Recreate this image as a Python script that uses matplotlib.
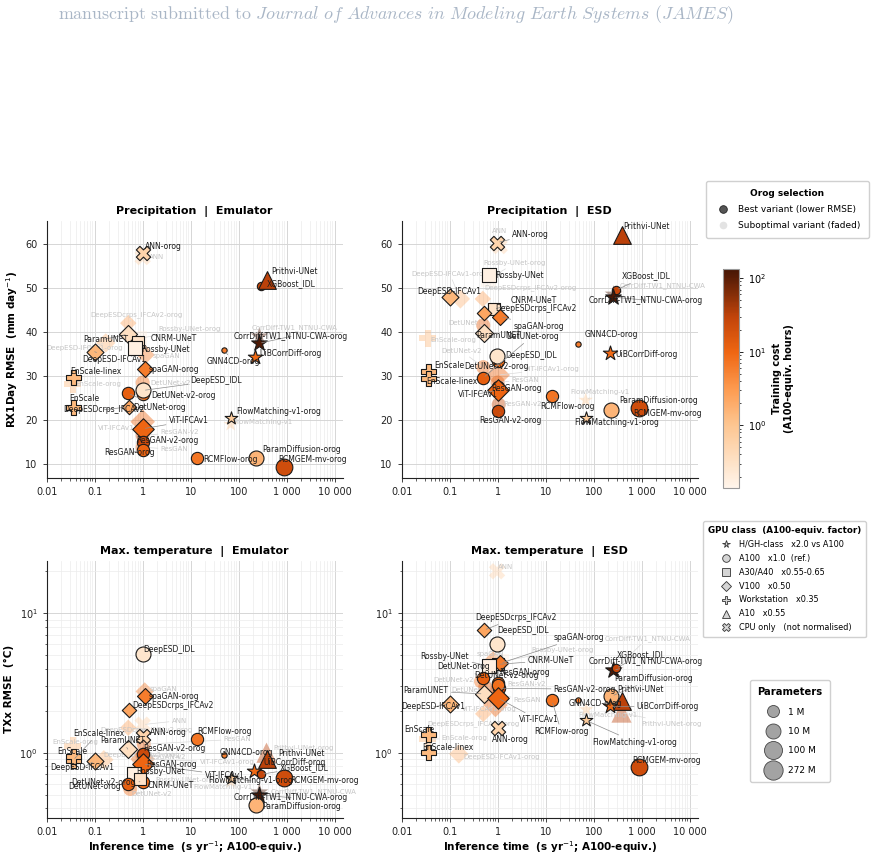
import numpy as np
import matplotlib
matplotlib.use("Agg")
import matplotlib.pyplot as plt
from matplotlib.colors import LinearSegmentedColormap, LogNorm
from matplotlib.cm import ScalarMappable
from matplotlib.lines import Line2D
from matplotlib.ticker import FixedLocator, FixedFormatter, LogLocator, NullFormatter

# ---------------------------------------------------------------- data
MODELS = ["ANN", "Prithvi-UNet", "XGBoost_IDL", "CorrDiff-TW1_NTNU-CWA", "UiBCorrDiff",
          "GNN4CD", "FlowMatching-v1", "ParamDiffusion", "RCMGEM-mv", "RCMFlow",
          "ResGAN", "ResGAN-v2", "ViT-IFCAv1", "DetUNet", "DetUNet-v2", "DeepESD_IDL",
          "spaGAN", "DeepESD-IFCAv1", "DeepESDcrps_IFCAv2", "ParamUNET", "CNRM-UNeT",
          "Rossby-UNet", "EnScale", "EnScale-linex"]
MODEL_GPU = ["CPU", "A10", "A100", "H", "H",
             "A100", "H", "A100", "A100", "A100",
             "A100", "A100", "V100", "A100", "A100", "A100",
             "V100", "V100", "V100", "V100", "A30",
             "A30", "WS", "WS"]
MODEL_COST = [0.55, 32, 26, 120, 9,
              6, 0.8, 1.6, 22, 7,
              11, 24, 10, 12, 8, 0.28,
              6, 1.5, 2.3, 0.35, 0.3,
              0.17, 1.4, 1.4]
MODEL_PARAMS_M = [6, 80, 0.06, 30, 10,
                  0.006, 2.7, 10, 37, 1.2,
                  1.3, 1.3, 12, 1.3, 1.3, 10,
                  0.6, 1.0, 0.25, 1.8, 1.0,
                  2.7, 10, 10]

GPU_CLASSES = ["H", "A100", "A30", "V100", "WS", "A10", "CPU"]
GPU_LABELS = ["H/GH-class   x2.0 vs A100", "A100   x1.0  (ref.)", "A30/A40   x0.55-0.65",
              "V100   x0.50", "Workstation   x0.35", "A10   x0.55", "CPU only   (not normalised)"]
PARAM_LEGEND_M = [1, 10, 100, 272]
PARAM_LEGEND_LABELS = ["1 M", "10 M", "100 M", "272 M"]

X_TICKS = [0.01, 0.1, 1, 10, 100, 1000, 10000]
X_TICK_LABELS = ["0.01", "0.1", "1", "10", "100", "1 000", "10 000"]
PR_Y_TICKS = [10, 20, 30, 40, 50, 60]

# Precipitation | Emulator
PE_BEST_NAMES = ["ANN-orog", "ParamUNET", "DeepESD-IFCAv1", "CNRM-UNeT", "Rossby-UNet",
                 "spaGAN-orog", "EnScale-linex", "DetUNet-v2-orog", "DeepESD_IDL", "DetUNet-orog",
                 "DeepESDcrps_IFCAv2", "EnScale", "ViT-IFCAv1", "ResGAN-v2-orog", "ResGAN-orog",
                 "RCMFlow-orog", "XGBoost_IDL", "Prithvi-UNet", "CorrDiff-TW1_NTNU-CWA-orog",
                 "UiBCorrDiff-orog", "GNN4CD-orog", "FlowMatching-v1-orog", "ParamDiffusion-orog",
                 "RCMGEM-mv-orog"]
PE_BEST_X = [1.0, 0.49, 0.10, 0.78, 0.68, 1.1, 0.035, 1.0, 1.0, 0.49,
             0.51, 0.035, 1.0, 1.0, 1.0, 13.5, 290, 380, 264, 224, 50, 68, 234, 880]
PE_BEST_Y = [58.0, 39.5, 35.5, 37.6, 36.3, 31.5, 29.8, 26.0, 26.7, 26.1,
             23.0, 23.0, 18.0, 15.1, 13.2, 11.3, 50.5, 51.8, 37.4, 34.2, 35.9, 20.5, 11.4, 9.4]
PE_SUB_NAMES = ["ANN", "DeepESDcrps_IFCAv2-orog", "Rossby-UNet-orog", "DeepESD-IFCAv1-orog",
                "spaGAN", "EnScale-orog", "DetUNet-v2", "ViT-IFCAv1-orog", "ResGAN-v2", "ResGAN",
                "FlowMatching-v1", "CorrDiff-TW1_NTNU-CWA"]
PE_SUB_X = [1.0, 0.5, 0.85, 0.17, 1.15, 0.035, 1.0, 1.0, 1.0, 1.0, 68, 270]
PE_SUB_Y = [57.0, 42.0, 38.5, 37.5, 34.8, 28.1, 28.5, 19.6, 16.5, 13.8, 19.0, 39.0]

# Precipitation | ESD
PD_BEST_NAMES = ["ANN-orog", "Rossby-UNet", "DeepESD-IFCAv1", "CNRM-UNeT", "DeepESDcrps_IFCAv2",
                 "spaGAN-orog", "ParamUNET", "DetUNet-v2-orog", "DeepESD_IDL", "EnScale",
                 "EnScale-linex", "DetUNet-orog", "ResGAN-orog", "ViT-IFCAv1", "ResGAN-v2-orog",
                 "RCMFlow-orog", "Prithvi-UNet", "XGBoost_IDL", "CorrDiff-TW1_NTNU-CWA-orog",
                 "GNN4CD-orog", "UiBCorrDiff-orog", "FlowMatching-v1-orog", "ParamDiffusion-orog",
                 "RCMGEM-mv-orog"]
PD_BEST_X = [0.97, 0.65, 0.10, 0.82, 0.51, 1.13, 0.51, 1.0, 0.97, 0.035,
             0.035, 0.49, 1.0, 1.0, 1.0, 13.5, 380, 290, 254, 48, 217, 68, 234, 880]
PD_BEST_Y = [60.3, 53.0, 47.9, 45.2, 44.4, 43.5, 39.8, 33.5, 34.6, 31.2,
             29.6, 29.5, 27.5, 26.8, 22.0, 25.5, 62.0, 49.5, 47.9, 37.3, 35.3, 20.5, 22.3, 22.8]
PD_SUB_NAMES = ["ANN", "Rossby-UNet-orog", "DeepESD-IFCAv1-orog", "DeepESDcrps_IFCAv2-orog",
                "DetUNet", "EnScale-orog", "DetUNet-v2", "ViT-IFCAv1-orog", "ResGAN", "ResGAN-v2",
                "FlowMatching-v1", "CorrDiff-TW1_NTNU-CWA"]
PD_SUB_X = [1.1, 0.65, 0.167, 0.49, 0.5, 0.035, 0.5, 1.0, 1.0, 1.05, 68, 260]
PD_SUB_Y = [59.5, 52.0, 47.5, 47.5, 41.5, 38.6, 32.0, 30.2, 28.5, 23.5, 24.5, 48.5]

# Max. temperature | Emulator
TE_BEST_NAMES = ["DeepESD_IDL", "spaGAN-orog", "DeepESDcrps_IFCAv2", "ANN-orog", "ParamUNET",
                 "EnScale-linex", "EnScale", "ResGAN-v2-orog", "DeepESD-IFCAv1", "ResGAN-orog",
                 "ViT-IFCAv1", "DetUNet-v2-orog", "Rossby-UNet", "CNRM-UNeT", "DetUNet-orog",
                 "RCMFlow-orog", "GNN4CD-orog", "Prithvi-UNet", "UiBCorrDiff-orog", "XGBoost_IDL",
                 "FlowMatching-v1-orog", "RCMGEM-mv-orog", "CorrDiff-TW1_NTNU-CWA-orog",
                 "ParamDiffusion-orog"]
TE_BEST_X = [1.0, 1.1, 0.51, 1.0, 0.49, 0.035, 0.035, 1.0, 0.10, 1.0,
             1.0, 1.0, 0.67, 0.86, 0.49, 13.7, 50, 380, 207, 290, 68, 880, 264, 234]
TE_BEST_Y = [5.13, 2.54, 2.04, 1.31, 1.06, 0.88, 0.94, 0.98, 0.875, 0.86,
             0.83, 0.62, 0.70, 0.65, 0.60, 1.26, 0.97, 0.90, 0.74, 0.70, 0.66, 0.66, 0.50, 0.42]
TE_SUB_NAMES = ["spaGAN", "ANN", "DeepESDcrps_IFCAv2-orog", "EnScale-orog", "DeepESD-IFCAv1-orog",
                "ResGAN-v2", "Rossby-UNet-orog", "DetUNet-v2", "ResGAN", "ViT-IFCAv1-orog",
                "Prithvi-UNet-orog", "FlowMatching-v1", "CorrDiff-TW1_NTNU-CWA"]
TE_SUB_X = [1.1, 1.0, 0.5, 0.035, 0.155, 1.0, 0.8, 0.55, 1.05, 1.0, 380, 68, 270]
TE_SUB_Y = [2.75, 1.59, 1.51, 1.12, 0.89, 0.96, 0.72, 0.55, 1.15, 0.90, 1.0, 0.62, 0.52]

# Max. temperature | ESD
TD_BEST_NAMES = ["DeepESDcrps_IFCAv2", "DeepESD_IDL", "CNRM-UNeT", "spaGAN-orog", "Rossby-UNet",
                 "DetUNet-orog", "ResGAN-orog", "ResGAN-v2-orog", "DetUNet-v2-orog", "ParamUNET",
                 "ViT-IFCAv1", "DeepESD-IFCAv1", "EnScale", "EnScale-linex", "ANN-orog",
                 "RCMFlow-orog", "CorrDiff-TW1_NTNU-CWA-orog", "XGBoost_IDL", "ParamDiffusion-orog",
                 "Prithvi-UNet", "GNN4CD-orog", "UiBCorrDiff-orog", "FlowMatching-v1-orog",
                 "RCMGEM-mv-orog"]
TD_BEST_X = [0.51, 0.97, 1.0, 1.13, 0.65, 0.49, 1.0, 1.05, 1.0, 0.51,
             1.0, 0.10, 0.035, 0.035, 1.0, 13.5, 254, 290, 234, 390, 48, 217, 68, 880]
TD_BEST_Y = [7.55, 6.05, 4.3, 4.37, 4.18, 3.41, 3.15, 2.9, 3.05, 2.64,
             2.47, 2.24, 1.36, 1.02, 1.51, 2.37, 3.89, 4.02, 2.54, 2.34, 2.38, 2.15, 1.71, 0.79]
TD_SUB_NAMES = ["ANN", "spaGAN", "Rossby-UNet-orog", "DetUNet-v2", "DetUNet", "ResGAN-v2", "ResGAN",
                "ViT-IFCAv1-orog", "DeepESDcrps_IFCAv2-orog", "EnScale-orog", "DeepESD-IFCAv1-orog",
                "FlowMatching-v1", "Prithvi-UNet-orog", "CorrDiff-TW1_NTNU-CWA"]
TD_SUB_X = [0.97, 0.8, 1.2, 0.45, 0.55, 1.0, 1.0, 0.9, 0.5, 0.035, 0.155, 70, 380, 270]
TD_SUB_Y = [20.0, 4.6, 4.5, 3.25, 2.95, 2.85, 2.6, 2.2, 1.9, 1.25, 0.98, 2.04, 1.94, 3.9]

# ---------------------------------------------------------------- layout / style
W, H = 873, 858
PT = 0.72  # points per pixel at 100 dpi

# label offsets (pixels: right, up) of each text's left edge from its point
OFF = {
    "PE": {"ANN-orog": (2, 6), "ParamUNET": (-45, -5), "DeepESD-IFCAv1": (-12, -8),
           "CNRM-UNeT": (13, 4), "Rossby-UNet": (7, -1), "spaGAN-orog": (4, 0),
           "EnScale-linex": (-3, 5), "DeepESD_IDL": (48, 10), "DetUNet-orog": (5, -14),
           "DetUNet-v2-orog": (9, -2), "DeepESDcrps_IFCAv2": (-65, -3), "EnScale": (-4, 8),
           "ViT-IFCAv1": (26, 8), "ResGAN-v2-orog": (-6, 1), "ResGAN-orog": (-38, -3),
           "RCMFlow-orog": (6, -1), "Prithvi-UNet": (5, 8), "XGBoost_IDL": (6, 2),
           "CorrDiff-TW1_NTNU-CWA-orog": (-25, 7), "UiBCorrDiff-orog": (4, 4),
           "GNN4CD-orog": (-18, -12), "FlowMatching-v1-orog": (6, 6),
           "ParamDiffusion-orog": (6, 8), "RCMGEM-mv-orog": (-6, 7),
           "ANN": (6, 0), "DeepESDcrps_IFCAv2-orog": (-38, 9), "Rossby-UNet-orog": (19, 10),
           "DeepESD-IFCAv1-orog": (-59, -5), "spaGAN": (7, -1), "EnScale-orog": (3, 0),
           "DetUNet-v2": (8, 0), "ViT-IFCAv1-orog": (-45, -6), "ResGAN-v2": (18, 3),
           "ResGAN": (18, -2), "FlowMatching-v1": (3, 2), "CorrDiff-TW1_NTNU-CWA": (-8, 9)},
    "PD": {"ANN-orog": (15, 8), "Rossby-UNet": (7, -1), "DeepESD-IFCAv1": (-32, 6),
           "CNRM-UNeT": (17, 9), "DeepESDcrps_IFCAv2": (12, 4), "spaGAN-orog": (13, -10),
           "ParamUNET": (-7, -3), "DetUNet-v2-orog": (-33, -6), "DeepESD_IDL": (8, 0),
           "EnScale": (6, 5), "EnScale-linex": (-2, -4), "DetUNet-orog": (23, 42),
           "ResGAN-orog": (-6, -2), "ViT-IFCAv1": (-40, -4), "ResGAN-v2-orog": (-18, -9),
           "RCMFlow-orog": (-12, -11), "Prithvi-UNet": (2, 9), "XGBoost_IDL": (6, 14),
           "CorrDiff-TW1_NTNU-CWA-orog": (-24, -3), "GNN4CD-orog": (6, 9),
           "UiBCorrDiff-orog": (6, -2), "FlowMatching-v1-orog": (-11, -5),
           "ParamDiffusion-orog": (8, 9), "RCMGEM-mv-orog": (-6, -6),
           "ANN": (-8, 15), "Rossby-UNet-orog": (-5, 16), "DeepESD-IFCAv1-orog": (-49, 25),
           "DeepESDcrps_IFCAv2-orog": (2, 11), "DetUNet": (-35, 2), "EnScale-orog": (3, -2),
           "DetUNet-v2": (-42, 16), "ViT-IFCAv1-orog": (27, 6), "ResGAN": (14, 3),
           "ResGAN-v2": (5, 1), "FlowMatching-v1": (-15, 8), "CorrDiff-TW1_NTNU-CWA": (6, 9)},
    "TE": {"DeepESD_IDL": (1, 4), "spaGAN-orog": (4, 0), "DeepESDcrps_IFCAv2": (4, 4),
           "ANN-orog": (7, 4), "ParamUNET": (-28, 9), "EnScale-linex": (0, 27),
           "EnScale": (-16, 5), "ResGAN-v2-orog": (1, 5), "DeepESD-IFCAv1": (-44, -7),
           "ResGAN-orog": (4, -3), "ViT-IFCAv1": (62, -11), "DetUNet-v2-orog": (-71, -1),
           "Rossby-UNet": (2, 3), "CNRM-UNeT": (8, -7), "DetUNet-orog": (-60, -3),
           "RCMFlow-orog": (0, 7), "GNN4CD-orog": (-5, 2), "Prithvi-UNet": (12, 6),
           "UiBCorrDiff-orog": (10, 8), "XGBoost_IDL": (19, 7), "FlowMatching-v1-orog": (-22, -3),
           "RCMGEM-mv-orog": (6, -3), "CorrDiff-TW1_NTNU-CWA-orog": (-25, -3),
           "ParamDiffusion-orog": (6, -1),
           "spaGAN": (5, 2), "ANN": (29, 4), "DeepESDcrps_IFCAv2-orog": (-28, -2),
           "EnScale-orog": (-20, 4), "DeepESD-IFCAv1-orog": (0, 5), "ResGAN-v2": (5, -2),
           "Rossby-UNet-orog": (17, -7), "DetUNet-v2": (1, -5), "ResGAN": (80, 5),
           "ViT-IFCAv1-orog": (57, -3), "Prithvi-UNet-orog": (7, 5), "FlowMatching-v1": (-37, -5),
           "CorrDiff-TW1_NTNU-CWA": (11, 1)},
    "TD": {"DeepESDcrps_IFCAv2": (-8, 13), "DeepESD_IDL": (0, 13), "spaGAN-orog": (53, 26),
           "Rossby-UNet": (-68, 10), "CNRM-UNeT": (30, 4), "DetUNet-orog": (-46, 12),
           "ResGAN-orog": (2, 11), "DetUNet-v2-orog": (-23, 10), "ParamUNET": (-80, 3),
           "ViT-IFCAv1": (21, -22), "DeepESD-IFCAv1": (-48, -3), "EnScale": (-24, 5),
           "EnScale-linex": (-6, 4), "ANN-orog": (-6, -12), "RCMFlow-orog": (-18, -31),
           "ResGAN-v2-orog": (55, -1), "CorrDiff-TW1_NTNU-CWA-orog": (-24, 9),
           "XGBoost_IDL": (1, 14), "ParamDiffusion-orog": (3, 18), "Prithvi-UNet": (-5, 12),
           "GNN4CD-orog": (-10, -3), "UiBCorrDiff-orog": (27, 0),
           "FlowMatching-v1-orog": (7, -22), "RCMGEM-mv-orog": (-7, 6),
           "ANN": (1, 4), "spaGAN": (-16, 6), "Rossby-UNet-orog": (30, 12), "DetUNet-v2": (-48, 1),
           "DetUNet": (-34, -3), "ResGAN-v2": (10, 5), "ResGAN": (16, -5),
           "ViT-IFCAv1-orog": (-34, -4), "DeepESDcrps_IFCAv2-orog": (-56, -10),
           "EnScale-orog": (14, 1), "DeepESD-IFCAv1-orog": (5, -3), "FlowMatching-v1": (-8, -5),
           "Prithvi-UNet-orog": (20, -11), "CorrDiff-TW1_NTNU-CWA": (-10, 32)},
}

GPU_MARKER = {"H": "*", "A100": "o", "A30": "s", "V100": "D", "WS": "P", "A10": "^", "CPU": "X"}

cmap = LinearSegmentedColormap.from_list(
    "cost", [(0.0, "#fff5eb"), (0.29, "#fdc590"), (0.45, "#fd9b50"), (0.62, "#ef6612"),
             (0.78, "#c2440a"), (0.96, "#5a1e06"), (1.0, "#471705")])
norm = LogNorm(vmin=0.14, vmax=133)


def size_px(p):
    return 12 + 3 * np.log10(p)


def base_of(name):
    return name[:-5] if name.endswith("-orog") else name


def rect(l, t, r, b):
    return [l / W, 1 - b / H, (r - l) / W, (b - t) / H]


plt.rcParams["font.family"] = ["DejaVu Sans"]
fig = plt.figure(figsize=(W / 100, H / 100), dpi=100)

fig.text(58 / W, 1 - 15 / H,
         r"$\mathrm{manuscript\ submitted\ to\ }\mathit{Journal\ of\ Advances\ in\ Modeling\ Earth\ Systems\ (JAMES)}$",
         math_fontfamily="cm", fontsize=12.9, color="#a9b6c6", ha="left", va="center")

panels = [
    ("PE", rect(46.7, 221, 342.7, 478.3), "Precipitation  |  Emulator", False,
     PE_BEST_NAMES, PE_BEST_X, PE_BEST_Y, PE_SUB_NAMES, PE_SUB_X, PE_SUB_Y),
    ("PD", rect(401.7, 221, 697.7, 478.3), "Precipitation  |  ESD", False,
     PD_BEST_NAMES, PD_BEST_X, PD_BEST_Y, PD_SUB_NAMES, PD_SUB_X, PD_SUB_Y),
    ("TE", rect(46.7, 561, 342.7, 817.7), "Max. temperature  |  Emulator", True,
     TE_BEST_NAMES, TE_BEST_X, TE_BEST_Y, TE_SUB_NAMES, TE_SUB_X, TE_SUB_Y),
    ("TD", rect(401.7, 561, 697.7, 817.7), "Max. temperature  |  ESD", True,
     TD_BEST_NAMES, TD_BEST_X, TD_BEST_Y, TD_SUB_NAMES, TD_SUB_X, TD_SUB_Y),
]

for key, r, title, is_temp, bn, bx, by, sn, sx, sy in panels:
    ax = fig.add_axes(r)
    ax.set_xscale("log")
    ax.set_xlim(0.01, 1.47e4)
    if is_temp:
        ax.set_yscale("log")
        ax.set_ylim(0.342, 23.7)
        ax.yaxis.set_minor_locator(LogLocator(base=10, subs=np.arange(2, 10)))
        ax.yaxis.set_minor_formatter(NullFormatter())
    else:
        ax.set_ylim(6.75, 65.2)
        ax.yaxis.set_major_locator(FixedLocator(PR_Y_TICKS))
    ax.xaxis.set_major_locator(FixedLocator(X_TICKS))
    ax.xaxis.set_major_formatter(FixedFormatter(X_TICK_LABELS))
    ax.xaxis.set_minor_locator(LogLocator(base=10, subs=np.arange(2, 10)))
    ax.xaxis.set_minor_formatter(NullFormatter())
    ax.grid(True, which="major", color="#d6d6d6", lw=0.7, zorder=0)
    ax.grid(True, which="minor", color="#ececec", lw=0.5, zorder=0)
    ax.set_axisbelow(True)
    for s in ("top", "right"):
        ax.spines[s].set_visible(False)
    for s in ("left", "bottom"):
        ax.spines[s].set_color("#222222")
        ax.spines[s].set_linewidth(0.8)
    ax.tick_params(which="major", direction="out", length=3, width=0.6, labelsize=7, colors="#222222")
    ax.tick_params(which="minor", direction="out", length=1.8, width=0.5, colors="#222222")
    ax.set_title(title, fontsize=8, fontweight="bold", pad=5)
    if key in ("TE", "TD"):
        ax.set_xlabel(r"Inference time  (s yr$^{-1}$; A100-equiv.)", fontsize=7.5, fontweight="bold", labelpad=2)
    if key == "PE":
        ax.set_ylabel(r"RX1Day RMSE  (mm day$^{-1}$)", fontsize=7.5, fontweight="bold", labelpad=4)
    if key == "TE":
        ax.set_ylabel("TXx RMSE  (°C)", fontsize=7.5, fontweight="bold", labelpad=4)

    offs = OFF[key]

    def draw(names, xs, ys, best):
        for n, x, y in zip(names, xs, ys):
            i = MODELS.index(base_of(n))
            m = GPU_MARKER[MODEL_GPU[i]]
            col = cmap(norm(MODEL_COST[i]))
            s = (size_px(MODEL_PARAMS_M[i]) * PT) ** 2
            if best:
                ax.scatter([x], [y], s=s, marker=m, c=[col], edgecolors="#1a1a1a",
                           linewidths=0.8, zorder=4)
            else:
                ax.scatter([x], [y], s=s * 1.3, marker=m, c=[col], edgecolors="none",
                           alpha=0.42, zorder=2)
            dx, dy = offs.get(n, (6, 0))
            far = np.hypot(dx, dy) > 14
            ap = None
            if far:
                ap = dict(arrowstyle="-", color="#8c8c8c" if best else "#dadada", lw=0.5,
                          shrinkA=0, shrinkB=2)
            ax.annotate(n, xy=(x, y), xytext=(dx * PT, dy * PT), textcoords="offset points",
                        ha="left", va="center", fontsize=5.5 if best else 5.0,
                        color="#1c1c1c" if best else "#c6c6c6", arrowprops=ap,
                        zorder=6 if best else 2.5)

    draw(sn, sx, sy, False)
    draw(bn, bx, by, True)

# ---------------------------------------------------------------- colorbar
cax = fig.add_axes(rect(723, 269, 739, 488))
cb = fig.colorbar(ScalarMappable(norm=norm, cmap=cmap), cax=cax)
cb.outline.set_edgecolor("#999999")
cb.outline.set_linewidth(0.8)
cax.tick_params(which="major", labelsize=7, length=3, width=0.6)
cax.tick_params(which="minor", length=1.5, width=0.5)
cb.set_label("Training cost\n(A100-equiv. hours)", fontsize=7, fontweight="bold", labelpad=4)

# ---------------------------------------------------------------- legends
orog_handles = [
    Line2D([], [], marker="o", ls="none", markersize=5.5, markerfacecolor="#555555",
           markeredgecolor="#222222", markeredgewidth=0.6),
    Line2D([], [], marker="o", ls="none", markersize=5.5, markerfacecolor="#e3e3e3",
           markeredgecolor="none"),
]
leg1 = fig.legend(orog_handles, ["Best variant (lower RMSE)", "Suboptimal variant (faded)"],
                  title="Orog selection", loc="upper left", bbox_to_anchor=(706 / W, 1 - 181 / H),
                  fontsize=6.5, title_fontproperties={"weight": "bold", "size": 6.5},
                  frameon=True, framealpha=1, edgecolor="#d0d0d0", borderpad=0.9,
                  handletextpad=0.7, labelspacing=0.75, borderaxespad=0)

gpu_handles = [Line2D([], [], marker=GPU_MARKER[g], ls="none", markersize=5.5,
                      markerfacecolor="#d5d5d5", markeredgecolor="#333333", markeredgewidth=0.6)
               for g in GPU_CLASSES]
leg2 = fig.legend(gpu_handles, GPU_LABELS, title="GPU class  (A100-equiv. factor)",
                  loc="upper left", bbox_to_anchor=(703 / W, 1 - 521 / H),
                  fontsize=5.9, title_fontproperties={"weight": "bold", "size": 6.3},
                  frameon=True, framealpha=1, edgecolor="#d0d0d0", borderpad=0.6,
                  handletextpad=0.6, labelspacing=0.6, borderaxespad=0)

par_handles = [Line2D([], [], marker="o", ls="none", markersize=size_px(p) * PT,
                      markerfacecolor="#a3a3a3", markeredgecolor="#444444", markeredgewidth=0.6)
               for p in PARAM_LEGEND_M]
leg3 = fig.legend(par_handles, PARAM_LEGEND_LABELS, title="Parameters",
                  loc="upper left", bbox_to_anchor=(750 / W, 1 - 680 / H),
                  fontsize=6.5, title_fontproperties={"weight": "bold", "size": 7.2},
                  frameon=True, framealpha=1, edgecolor="#d0d0d0", borderpad=0.8,
                  handletextpad=0.6, labelspacing=1.15, borderaxespad=0)

fig.savefig("out.png", dpi=100)
